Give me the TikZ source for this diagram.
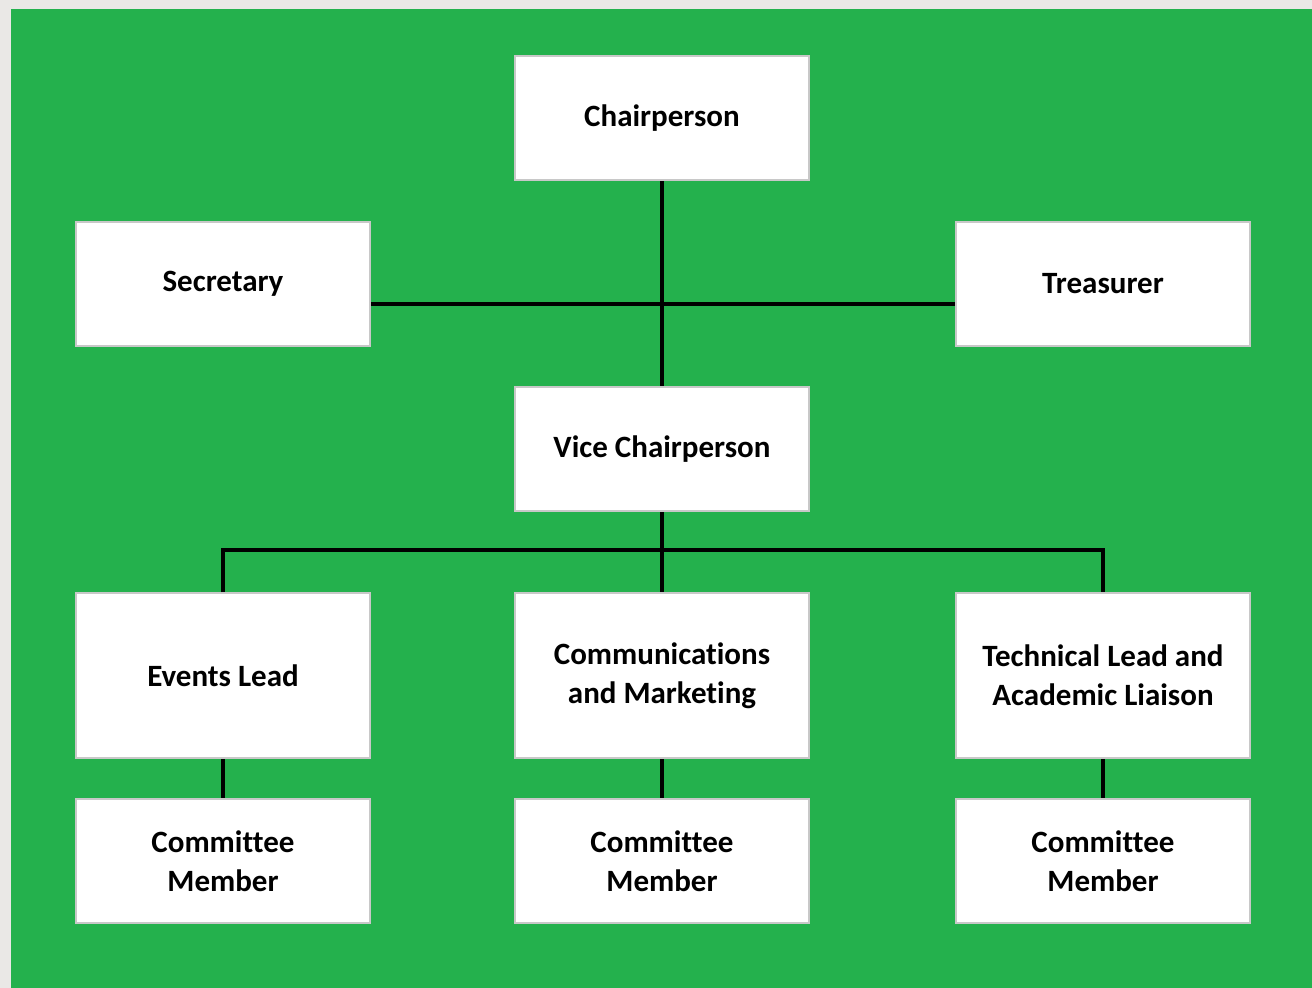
\documentclass[tikz,border=0pt]{standalone}
\usepackage{fontspec}
\setmainfont[Ligatures=NoCommon]{Carlito}
\definecolor{bggreen}{HTML}{24B14D}
\definecolor{edgegray}{HTML}{EAE8E6}
\definecolor{boxline}{HTML}{C8C8C8}
\begin{document}
\begin{tikzpicture}[x=1pt,y=-1pt,
  rolebox/.style={draw=boxline,line width=2pt,fill=white,minimum width=294pt,minimum height=124pt,
    align=center,font=\fontsize{31}{39}\selectfont\bfseries,inner sep=0pt,anchor=north west},
  tallbox/.style={rolebox,minimum height=165pt},
  link/.style={line width=4pt,black}]
\useasboundingbox (0,0) rectangle (1312,988);
\fill[edgegray] (0,0) rectangle (1312,988);
\fill[bggreen] (11,9) rectangle (1312,988);
\node[rolebox] (chair) at (514,55) {Chairperson};
\node[rolebox] (sec) at (75,221) {Secretary};
\node[rolebox] (tre) at (955,221) {Treasurer};
\node[rolebox] (vice) at (514,386) {Vice Chairperson};
\node[tallbox] (ev) at (75,592) {Events Lead};
\node[tallbox] (com) at (514,592) {Communications\\and Marketing};
\node[tallbox] (tech) at (955,592) {Technical Lead and\\Academic Liaison};
\node[rolebox] (cm1) at (75,798) {Committee\\Member};
\node[rolebox] (cm2) at (514,798) {Committee\\Member};
\node[rolebox] (cm3) at (955,798) {Committee\\Member};
\coordinate (bus) at (662,550);
\draw[link] (chair.south) -- (vice.north);
\draw[link] ([yshift=-20pt]sec.east) -- ([yshift=-20pt]tre.west);
\draw[link] (vice.south) -- (com.north);
\draw[link] (ev.north) |- (bus) -| (tech.north);
\draw[link] (ev.south) -- (cm1.north);
\draw[link] (com.south) -- (cm2.north);
\draw[link] (tech.south) -- (cm3.north);
\end{tikzpicture}
\end{document}
